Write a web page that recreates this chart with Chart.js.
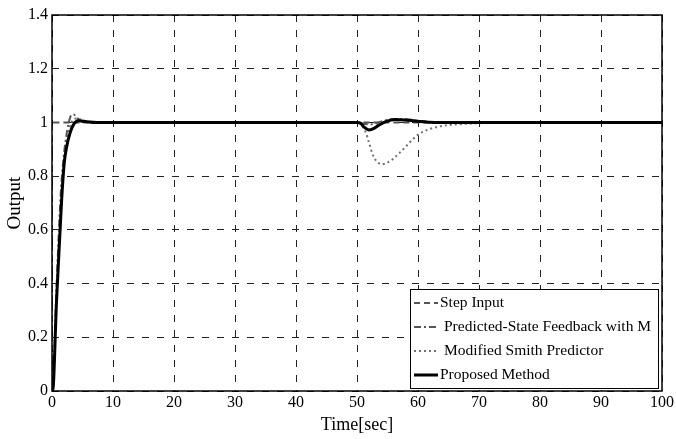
<!DOCTYPE html>
<html>
<head>
<meta charset="utf-8">
<script src="https://cdn.jsdelivr.net/npm/chart.js@4/dist/chart.umd.min.js"></script>
<style>
  html, body { margin: 0; padding: 0; background: #fff; }
  #wrap { width: 676px; height: 439px; }
</style>
</head>
<body>
<div id="wrap"><canvas id="chart"></canvas></div>
<script>
// tick labels
const xTicks = [0, 10, 20, 30, 40, 50, 60, 70, 80, 90, 100];
const yTicks = [0, 0.2, 0.4, 0.6, 0.8, 1, 1.2, 1.4];

// series (time in sec, output)
const stepTime = [0, 0, 100];
const stepOut = [0, 1, 1];

const psfTime = [0, 0.08, 0.7, 1.2, 1.5, 2.0, 2.5, 3.0, 3.5, 4.2, 5, 6, 50, 51, 52.5, 54, 56, 58, 60, 62, 65, 100];
const psfOut = [0, 0, 0.36, 0.63, 0.76, 0.89, 0.97, 1.02, 1.03, 1.015, 1.003, 1, 1, 0.995, 0.993, 1.004, 1.012, 1.012, 1.006, 1.002, 1, 1];

const msTime = [0, 0.08, 0.7, 1.2, 1.6, 2.1, 2.6, 3.2, 4.0, 4.8, 6, 7.5, 50, 51.4, 52.0, 52.5, 53.05, 53.6, 54.1, 54.95, 55.8, 56.9, 58.0, 59.0, 60.1, 61.2, 62.9, 64.5, 67.2, 69.9, 73.7, 100];
const msOut = [0, 0, 0.35, 0.61, 0.76, 0.88, 0.95, 1.0, 1.015, 1.01, 1.002, 1, 1, 0.965, 0.922, 0.885, 0.86, 0.848, 0.844, 0.85, 0.862, 0.885, 0.91, 0.934, 0.956, 0.969, 0.982, 0.989, 0.994, 0.997, 1, 1];

const propTime = [0, 0.1, 0.75, 1.3, 1.58, 2.0, 2.4, 2.94, 3.48, 4.3, 5.7, 7.3, 50, 50.6, 51.1, 52.0, 52.8, 53.6, 54.7, 56.3, 58.0, 59.6, 61.8, 64, 100];
const propOut = [0, 0, 0.339, 0.587, 0.711, 0.848, 0.909, 0.959, 0.99, 1.006, 1.003, 1, 1, 0.997, 0.984, 0.972, 0.978, 0.99, 1.003, 1.011, 1.009, 1.005, 1.001, 1, 1];

const seriesNames = ['Step Input', 'Predicted-State Feedback with M', 'Modified Smith Predictor', 'Proposed Method'];

const pts = (xs, ys) => xs.map((x, i) => ({ x, y: ys[i] }));
const SERIF = '"Liberation Serif", "Times New Roman", serif';

const boxPlugin = {
  id: 'box',
  afterDatasetsDraw(chart) {
    const { ctx, chartArea: a } = chart;
    ctx.save();
    ctx.strokeStyle = '#000';
    ctx.lineWidth = 1.5;
    ctx.setLineDash([]);
    ctx.strokeRect(a.left, a.top, a.right - a.left, a.bottom - a.top);

    // legend inside the lower right corner
    const w = 248, h = 99;
    const x0 = a.right - 4 - w, y0 = a.bottom - 3 - h;
    ctx.fillStyle = '#fff';
    ctx.fillRect(x0, y0, w, h);
    ctx.lineWidth = 1;
    ctx.strokeRect(x0 + 0.5, y0 + 0.5, w, h);
    ctx.font = '15.5px ' + SERIF;
    ctx.textBaseline = 'middle';
    chart.data.datasets.forEach((ds, i) => {
      const y = y0 + 14 + i * 24;
      ctx.strokeStyle = ds.borderColor;
      ctx.lineWidth = ds.borderWidth;
      ctx.setLineDash(ds.borderDash || []);
      ctx.beginPath();
      ctx.moveTo(x0 + 4, y);
      ctx.lineTo(x0 + 28, y);
      ctx.stroke();
      ctx.fillStyle = '#000';
      ctx.fillText(ds.label, x0 + (i === 1 || i === 2 ? 34 : 30), y);
    });
    ctx.restore();
  }
};

const line = (label, data, color, width, dash, order) => ({
  label, data, borderColor: color, borderWidth: width, borderDash: dash,
  pointRadius: 0, fill: false, cubicInterpolationMode: 'monotone', order
});

new Chart(document.getElementById('chart'), {
  type: 'line',
  plugins: [boxPlugin],
  data: {
    datasets: [
      line(seriesNames[0], pts(stepTime, stepOut), '#555', 2, [6, 4], 3),
      line(seriesNames[1], pts(psfTime, psfOut), '#555', 2, [7, 3, 2, 3], 2),
      line(seriesNames[2], pts(msTime, msOut), '#707070', 2, [2, 3], 1),
      line(seriesNames[3], pts(propTime, propOut), '#000', 3, [], 0),
    ]
  },
  options: {
    responsive: true,
    maintainAspectRatio: false,
    animation: false,
    layout: { padding: { top: 15, right: 13, left: 0, bottom: 0 } },
    scales: {
      x: {
        type: 'linear',
        min: 0, max: 100,
        afterBuildTicks: s => { s.ticks = xTicks.map(v => ({ value: v })); },
        afterFit: s => { s.height = 48; },
        grid: { color: '#222', lineWidth: 1, drawTicks: false },
        border: { display: false, dash: [7, 8] },
        ticks: { color: '#000', font: { family: SERIF, size: 16 }, padding: 2, maxRotation: 0 },
        title: { display: true, text: 'Time[sec]', color: '#000', font: { family: SERIF, size: 18 }, padding: { top: 0, bottom: 3 } }
      },
      y: {
        min: 0, max: 1.4,
        afterBuildTicks: s => { s.ticks = yTicks.map(v => ({ value: v })); },
        afterFit: s => { s.width = 52; },
        grid: { color: '#222', lineWidth: 1, drawTicks: false },
        border: { display: false, dash: [7, 8] },
        ticks: { color: '#000', font: { family: SERIF, size: 16 }, padding: 4, callback: v => String(+v.toFixed(1)) },
        title: { display: true, text: 'Output', color: '#000', font: { family: SERIF, size: 19 }, padding: { top: 4, bottom: 0 } }
      }
    },
    plugins: {
      legend: { display: false },
      tooltip: { enabled: false }
    }
  }
});
</script>
</body>
</html>
